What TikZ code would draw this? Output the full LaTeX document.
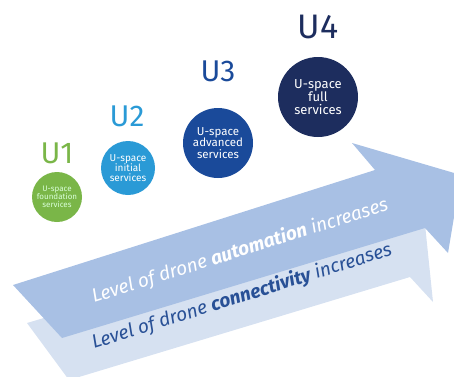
\documentclass[tikz,border=0pt]{standalone}
\usepackage{fontspec}
\setmainfont{Fira Sans}
\definecolor{autoblue}{RGB}{168,192,228}
\definecolor{connblue}{RGB}{214,225,241}
\definecolor{textblue}{RGB}{40,80,150}
\definecolor{uonegreen}{RGB}{122,182,72}
\definecolor{utwoblue}{RGB}{42,154,214}
\definecolor{uthreeblue}{RGB}{26,74,154}
\definecolor{ufournavy}{RGB}{29,45,94}
\begin{document}
\begin{tikzpicture}[x=1pt,y=-1pt,
  stage/.style={circle,inner sep=0pt,align=center,text=white,font=\fontsize{#1}{#1}\selectfont},
  stagelabel/.style={inner sep=0pt,font=\fontsize{30}{30}\selectfont},
  arrowtext/.style={anchor=base west,rotate=17.5,inner sep=0pt,font=\fontsize{19}{19}\selectfont\itshape}]
\useasboundingbox (0,0) rectangle (454,376);
\clip (0,0) rectangle (454,376);

% lower arrow: connectivity
\fill[connblue] (27,323) -- (423,205) -- (433,302) -- (410,277) -- (69,380) -- cycle;
% upper arrow: automation
\fill[autoblue] (13,285) -- (375,170) -- (352,143) -- (461,175) -- (448,253) -- (425,228) -- (62,338) -- cycle;

\node[arrowtext,text=white] (auto) at (94,303) {Level of drone \textbf{automation} increases};
\node[arrowtext,text=textblue] (conn) at (94,349) {Level of drone \textbf{connectivity} increases};

% service stages
\node[stage=8,fill=uonegreen,minimum size=50pt,text=green!15!white] (s1) at (57,197) {U-space\\foundation\\services};
\node[stage=10,fill=utwoblue,minimum size=54pt] (s2) at (128,168) {U-space\\initial\\services};
\node[stage=11.5,fill=uthreeblue,minimum size=70pt] (s3) at (218,143) {U-space\\advanced\\services};
\node[stage=13,fill=ufournavy,minimum size=80pt] (s4) at (318,97) {U-space\\full\\services};

\node[stagelabel,text=uonegreen] (l1) at (57,153) {U1};
\node[stagelabel,text=utwoblue] (l2) at (127,116) {U2};
\node[stagelabel,text=uthreeblue] (l3) at (218,71) {U3};
\node[stagelabel,text=ufournavy,font=\fontsize{34}{34}\selectfont] (l4) at (318,27) {U4};
\end{tikzpicture}
\end{document}
